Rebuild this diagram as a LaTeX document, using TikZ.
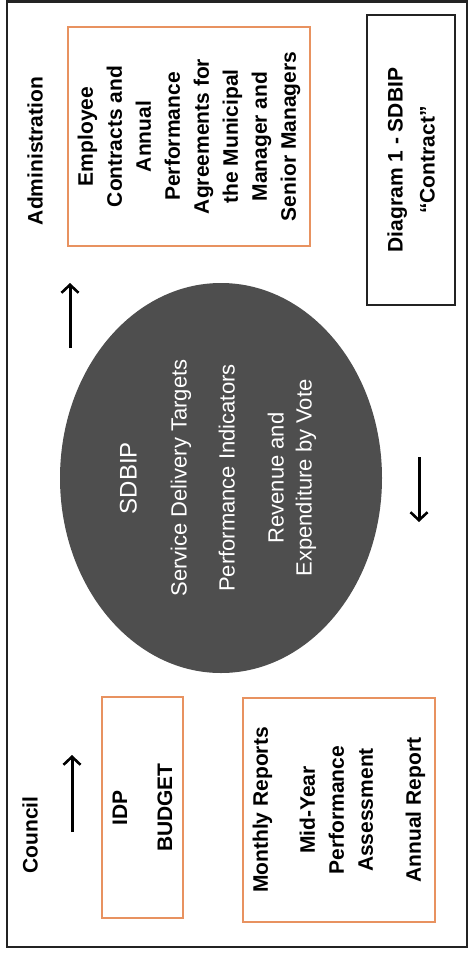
\documentclass[tikz,border=0pt]{standalone}
\usepackage{fontspec}
\setmainfont{Liberation Sans}
\usetikzlibrary{shapes.geometric,arrows.meta}
\definecolor{boxorange}{RGB}{232,146,96}
\definecolor{ellgray}{RGB}{78,78,78}
\definecolor{framegray}{RGB}{35,35,35}
\begin{document}
\begin{tikzpicture}[x=1pt,y=-1pt,
  vt/.style={rotate=90, font=\bfseries\fontsize{21}{29}\selectfont, align=center},
  obox/.style={vt, draw=boxorange, line width=2pt, inner sep=0pt},
  kbox/.style={vt, draw=framegray, line width=2.8pt, inner sep=0pt},
  arr/.style={line width=3pt, -{Straight Barb[length=8pt,width=17pt,line width=2.6pt]}}]
\path[use as bounding box, fill=white] (0,0) rectangle (469,955);
\draw[line width=2.2pt, framegray] (7,1.5) rectangle (467,947);

% Administration side
\node[vt] (admin) at (35,151) {Administration};
\node[obox, minimum width=219pt, minimum height=242pt] (emp) at (189,136.5)
  {Employee\\Contracts and\\Annual\\Performance\\Agreements for\\the Municipal\\Manager and\\Senior Managers};
\node[kbox, minimum width=290pt, minimum height=88pt] (diag) at (411,160)
  {Diagram 1 - SDBIP\\[3pt]“Contract”};

% SDBIP ellipse
\node[ellipse, fill=ellgray, minimum width=322pt, minimum height=390pt, inner sep=0pt] (sdbip) at (221,478) {};
\node[rotate=90, text=white, align=center, font=\fontsize{22}{28}\selectfont] (sdbiptext) at (218,478)
  {{\fontsize{24}{28}\selectfont SDBIP}\\[22pt]Service Delivery Targets\\[20pt]Performance Indicators\\[21pt]Revenue and\\Expenditure by Vote};

% Council side
\node[vt] (council) at (30,835) {Council};
\node[obox, minimum width=221pt, minimum height=81pt] (plan) at (142.5,807.5) {IDP\\[16pt]BUDGET};
\node[obox, minimum width=224pt, minimum height=192pt] (rep) at (339,810)
  {Monthly Reports\\[18pt]Mid-Year\\Performance\\Assessment\\[19pt]Annual Report};

% arrows
\coordinate (a1s) at (70,348);
\coordinate (a1e) at (70,283);
\coordinate (a2s) at (72,832);
\coordinate (a2e) at (72,755);
\coordinate (a3s) at (419,457);
\coordinate (a3e) at (419,522);
\draw[arr] (a1s) -- (a1e);
\draw[arr] (a2s) -- (a2e);
\draw[arr] (a3s) -- (a3e);
\end{tikzpicture}
\end{document}
